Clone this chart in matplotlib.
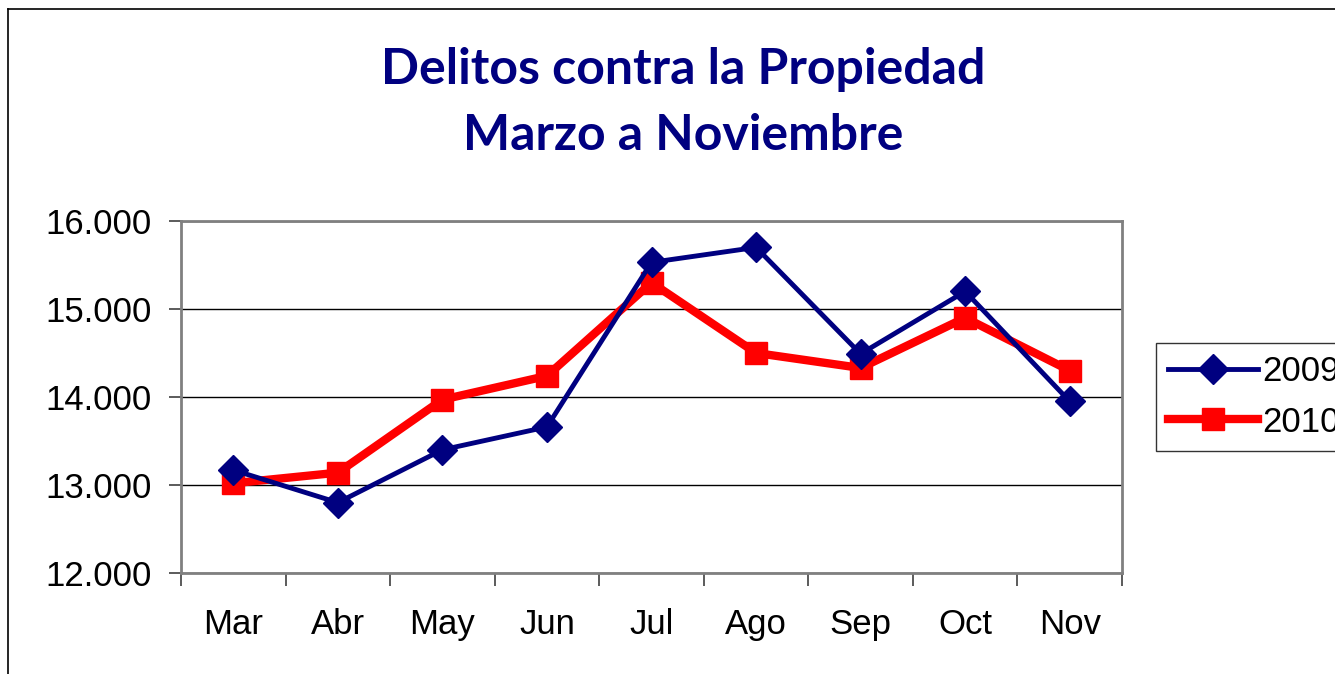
import matplotlib.pyplot as plt
from matplotlib.lines import Line2D
import numpy as np

# Data:
months = ['Mar', 'Abr', 'May', 'Jun', 'Jul', 'Ago', 'Sep', 'Oct', 'Nov']
values_2009 = [13170, 12800, 13400, 13660, 15530, 15700, 14490, 15200, 13950]
values_2010 = [13020, 13140, 13970, 14240, 15300, 14500, 14330, 14900, 14300]
y_ticks = [12000, 13000, 14000, 15000, 16000]
y_tick_labels = ['12.000', '13.000', '14.000', '15.000', '16.000']

W, H = 1335, 674
fig = plt.figure(figsize=(W / 100, H / 100), dpi=100)
ax = fig.add_axes([181 / W, 1 - 573 / H, (1122 - 181) / W, (573 - 221) / H])

x = np.arange(len(months))

# Plot series:
ax.plot(x, values_2009, color='#000080', lw=3.5, marker='D', markersize=15,
        label='2009', zorder=4, solid_joinstyle='round')
ax.plot(x, values_2010, color='#FF0000', lw=6, marker='s', markersize=16,
        label='2010', zorder=3, solid_joinstyle='round')

# Axes settings:
ax.set_xlim(-0.5, len(months) - 0.5)
ax.set_ylim(12000, 16000)
ax.set_yticks(y_ticks)
ax.set_yticklabels(y_tick_labels, fontsize=25, family='Liberation Sans')
ax.set_xticks(np.arange(-0.5, len(months), 1.0))
ax.set_xticklabels([])
ax.set_xticks(x, minor=True)
ax.set_xticklabels(months, minor=True, fontsize=25, family='Liberation Sans')
ax.tick_params(axis='x', which='major', length=9, width=1.2, color='#404040', direction='out')
ax.tick_params(axis='x', which='minor', length=0, pad=25)
ax.tick_params(axis='y', length=9, width=1.2, color='#404040', direction='out', pad=12)

ax.grid(axis='y', color='black', lw=1)
ax.set_axisbelow(True)
for sp in ax.spines.values():
    sp.set_color('#808080')
    sp.set_linewidth(2)

# Title:
fig.text(683 / W, 1 - 70 / H, 'Delitos contra la Propiedad', ha='center', va='center',
         fontsize=36, fontweight='bold', color='#000080', family='Lato')
fig.text(683 / W, 1 - 135 / H, 'Marzo a Noviembre', ha='center', va='center',
         fontsize=36, fontweight='bold', color='#000080', family='Lato')

# Legend:
leg = fig.legend(loc='upper left', bbox_to_anchor=(1156 / W, 1 - 343 / H),
                 prop={'family': 'Liberation Sans', 'size': 25},
                 frameon=True, fancybox=False, handlelength=2.6, handletextpad=0.1,
                 borderpad=0.35, labelspacing=0.5, borderaxespad=0)
leg.get_frame().set_edgecolor('black')
leg.get_frame().set_linewidth(1)

# Outer chart frame (cropped on right and bottom):
fig.add_artist(Line2D([8 / W, 8 / W], [0, 1 - 9 / H], color='black', lw=1.2))
fig.add_artist(Line2D([8 / W, 1], [1 - 9 / H, 1 - 9 / H], color='black', lw=1.2))

plt.savefig('out.png', dpi=100)
